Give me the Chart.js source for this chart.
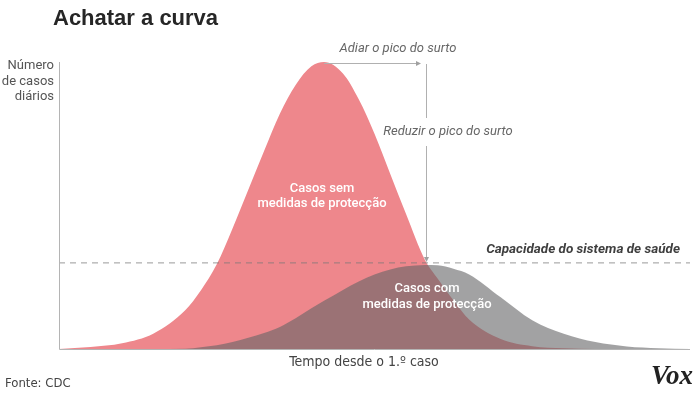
<!DOCTYPE html>
<html>
<head>
<meta charset="utf-8">
<script src="https://cdn.jsdelivr.net/npm/chart.js@4/dist/chart.umd.min.js"></script>
<style>
  html, body { margin: 0; padding: 0; background: #fff; }
  #wrap { position: relative; width: 700px; height: 393px; }
</style>
</head>
<body>
<div id="wrap"><canvas id="myChart" width="700" height="393"></canvas></div>
<script>
// Dados (tempo e casos em unidades relativas 0-100)
var tempo = [0, 5, 10, 15, 20, 22.5, 25, 27.5, 30, 32.5, 35, 37.5, 40, 42, 45, 47.5, 50, 52.5, 55, 58, 60, 62.5, 65, 70, 75, 80, 85, 90, 95, 100];
var semMedidas = [0, 0.7, 2, 5.4, 13.5, 20.5, 29.5, 42, 55.5, 69, 82, 92, 98.5, 100, 96, 87, 75, 61, 47, 31, 24.6, 17, 10.3, 3.5, 1, 0.3, 0, 0, 0, 0];
var comMedidas = [0, 0, 0, 0, 0.1, 0.6, 1.3, 2.4, 3.9, 5.6, 7.7, 10.7, 14.2, 16.8, 20.6, 23.5, 26, 27.7, 28.8, 29.3, 29.2, 28, 26, 18, 10, 5.3, 2.4, 0.9, 0.3, 0];
var capacidade = 30;

var titulo = 'Achatar a curva';
var eixoY = ['Número', 'de casos', 'diários'];
var eixoX = 'Tempo desde o 1.º caso';
var fonte = 'Fonte: CDC';

//-----------------

function pontos(valores){
    var res = [];
    for (var i = 0; i < tempo.length; i++) {
        res.push({x: tempo[i], y: valores[i]});
    }
    return res;
}

function indiceMax(array){
    var idx = 0;
    for (var i = 1; i < array.length; i++) if (array[i] > array[idx]) idx = i;
    return idx;
}

function seta(ctx, x, y, dir){
    ctx.beginPath();
    if (dir == 'right') {
        ctx.moveTo(x, y); ctx.lineTo(x - 5, y - 2.5); ctx.lineTo(x - 5, y + 2.5);
    } else {
        ctx.moveTo(x, y); ctx.lineTo(x - 2.5, y - 5); ctx.lineTo(x + 2.5, y - 5);
    }
    ctx.closePath();
    ctx.fill();
}

var textos = {
    id: 'textos',
    afterDatasetsDraw: function(chart){
        var ctx = chart.ctx;
        var xs = chart.scales.x, ys = chart.scales.y;
        var left = xs.getPixelForValue(0), right = xs.getPixelForValue(100);
        var bottom = ys.getPixelForValue(0), top = ys.getPixelForValue(100);
        ctx.save();

        // eixos
        ctx.strokeStyle = '#b4b4b4';
        ctx.lineWidth = 1;
        ctx.beginPath();
        ctx.moveTo(left + 0.5, top);
        ctx.lineTo(left + 0.5, bottom + 0.5);
        ctx.lineTo(right, bottom + 0.5);
        ctx.stroke();

        // setas
        var iPico = indiceMax(semMedidas), iPico2 = indiceMax(comMedidas);
        var xPico = xs.getPixelForValue(tempo[iPico]);
        var yPico = ys.getPixelForValue(semMedidas[iPico]);
        var xPico2 = xs.getPixelForValue(tempo[iPico2]) + 1;
        var yCap = ys.getPixelForValue(capacidade);
        ctx.strokeStyle = '#b0b0b0';
        ctx.fillStyle = '#a0a0a0';
        ctx.beginPath();
        ctx.moveTo(xPico, yPico + 1.5);
        ctx.lineTo(xPico2 - 6, yPico + 1.5);
        ctx.stroke();
        seta(ctx, xPico2 - 5, yPico + 1.5, 'right');

        ctx.beginPath();
        ctx.moveTo(Math.round(xPico2) + 0.5, yPico + 2);
        ctx.lineTo(Math.round(xPico2) + 0.5, 118);
        ctx.moveTo(Math.round(xPico2) + 0.5, 146);
        ctx.lineTo(Math.round(xPico2) + 0.5, yCap - 2);
        ctx.stroke();
        seta(ctx, Math.round(xPico2) + 0.5, yCap - 1, 'down');

        // título
        ctx.fillStyle = '#262626';
        ctx.font = 'bold 22px "Liberation Sans", Arial, sans-serif';
        ctx.textAlign = 'left';
        ctx.textBaseline = 'middle';
        ctx.fillText(titulo, 53, 19);

        // rótulo do eixo y
        ctx.fillStyle = '#555';
        ctx.font = '13px "Roboto", sans-serif';
        ctx.textAlign = 'right';
        for (var i = 0; i < eixoY.length; i++) {
            ctx.fillText(eixoY[i], 54, 66 + i * 15.5);
        }

        // anotações
        ctx.fillStyle = '#666';
        ctx.font = 'italic 13px "Roboto", sans-serif';
        ctx.textAlign = 'center';
        ctx.fillText('Adiar o pico do surto', 398, 49);
        ctx.fillText('Reduzir o pico do surto', 448, 132);

        ctx.fillStyle = '#3f3f3f';
        ctx.font = 'italic bold 13.5px "Roboto", sans-serif';
        ctx.textAlign = 'right';
        ctx.fillText('Capacidade do sistema de saúde', 680, 250);

        ctx.fillStyle = '#ffffff';
        ctx.font = '500 13px "Roboto", sans-serif';
        ctx.textAlign = 'center';
        ctx.fillText('Casos sem', 322, 189);
        ctx.fillText('medidas de protecção', 322, 204);
        ctx.fillText('Casos com', 427, 289);
        ctx.fillText('medidas de protecção', 427, 305);

        // eixo x e fonte
        ctx.fillStyle = '#444';
        ctx.font = '14px "Liberation Sans Narrow", "DejaVu Sans Condensed", "Roboto", sans-serif';
        ctx.fillText(eixoX, 364, 362);
        ctx.textAlign = 'left';
        ctx.font = '13px "Liberation Sans Narrow", "DejaVu Sans Condensed", "Roboto", sans-serif';
        ctx.fillText(fonte, 5, 384);

        // logo
        ctx.fillStyle = '#222';
        ctx.font = 'italic bold 27px "Liberation Serif", "DejaVu Serif", serif';
        ctx.textAlign = 'right';
        ctx.fillText('Vox', 693, 377);

        ctx.restore();
    }
};

var ctx = document.getElementById('myChart').getContext('2d');
var chart = new Chart(ctx, {
    type: 'line',
    data: {
        datasets: [{
            label: 'Casos sem medidas de protecção',
            data: pontos(semMedidas),
            backgroundColor: 'rgb(238,135,140)',
            borderWidth: 0,
            fill: 'origin',
            pointRadius: 0,
            cubicInterpolationMode: 'monotone',
            order: 3
        }, {
            label: 'Casos com medidas de protecção',
            data: pontos(comMedidas),
            backgroundColor: 'rgba(100,100,102,0.6)',
            borderWidth: 0,
            fill: 'origin',
            pointRadius: 0,
            cubicInterpolationMode: 'monotone',
            order: 2
        }, {
            label: 'Capacidade do sistema de saúde',
            data: [{x: 0, y: capacidade}, {x: 100, y: capacidade}],
            borderColor: 'rgba(120,120,120,0.75)',
            borderWidth: 1,
            borderDash: [6, 5],
            fill: false,
            pointRadius: 0,
            order: 1
        }]
    },
    options: {
        animation: false,
        responsive: false,
        events: [],
        layout: { padding: { left: 59, right: 10, top: 62, bottom: 44 } },
        plugins: { legend: { display: false }, tooltip: { enabled: false } },
        scales: {
            x: { type: 'linear', min: 0, max: 100, display: false },
            y: { type: 'linear', min: 0, max: 100, display: false }
        }
    },
    plugins: [textos]
});
</script>
</body>
</html>
